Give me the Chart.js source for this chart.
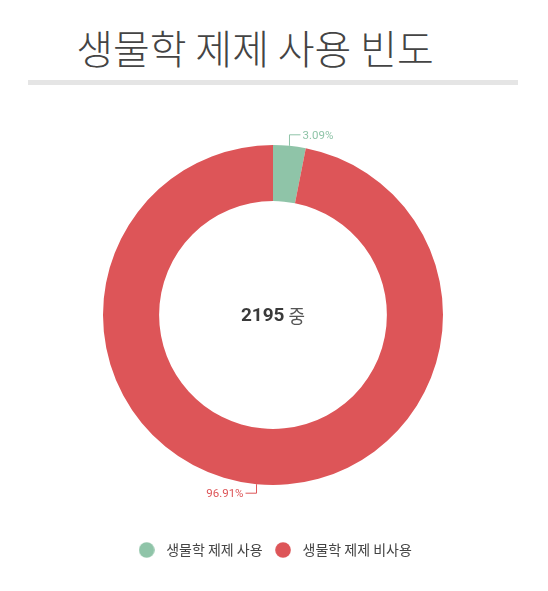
<!DOCTYPE html>
<html>
<head>
<meta charset="utf-8">
<script src="https://cdn.jsdelivr.net/npm/chart.js@4.4.0/dist/chart.umd.min.js"></script>
<style>
  body { margin: 0; background: #fff; width: 548px; height: 591px; position: relative; overflow: hidden; }
  #title {
    position: absolute; left: 0; top: 19px; width: 510px; text-align: center;
    font-family: "Noto Sans CJK KR", sans-serif; font-weight: 300; font-size: 40px;
    line-height: 56px; color: #444;
  }
  #bar { position: absolute; left: 28px; top: 80px; width: 490px; height: 5px; background: #e5e5e5; }
  #wrap { position: absolute; left: 0; top: 95px; width: 548px; height: 472px; }
</style>
</head>
<body>
<div id="title">생물학 제제 사용 빈도</div>
<div id="bar"></div>
<div id="wrap"><canvas id="pie"></canvas></div>
<script>
// ===============================
// data
// ===============================
const categories = ["생물학 제제 사용", "생물학 제제 비사용"];
const percents = [3.09, 96.91];
const colors = ["#8fc4a8", "#dd5558"];
const totalCount = 2195;
const centerSuffix = "중";

Chart.defaults.font.family = "Roboto, 'Noto Sans CJK KR', sans-serif";

// legend dots (round marker drawn on a small canvas)
function makeDot(color) {
  const c = document.createElement("canvas");
  c.width = 16; c.height = 16;
  const g = c.getContext("2d");
  g.fillStyle = color;
  g.beginPath();
  g.arc(8, 8, 7.8, 0, Math.PI * 2);
  g.fill();
  return c;
}
const dots = colors.map(makeDot);

// ===============================
// plugins
// ===============================
const centerText = {
  id: "centerText",
  afterDatasetsDraw(chart) {
    const arc = chart.getDatasetMeta(0).data[0];
    if (!arc) return;
    const { x, y } = arc.getProps(["x", "y"], true);
    const ctx = chart.ctx;
    const bold = "bold 19px Roboto, sans-serif";
    const norm = "normal 18px 'Noto Sans CJK KR', sans-serif";
    const a = String(totalCount), b = " " + centerSuffix;
    ctx.save();
    ctx.font = bold; const wa = ctx.measureText(a).width;
    ctx.font = norm; const wb = ctx.measureText(b).width;
    const left = x - (wa + wb) / 2;
    ctx.textBaseline = "middle";
    ctx.textAlign = "left";
    ctx.fillStyle = "#3a3a3a";
    ctx.font = bold; ctx.fillText(a, left, y + 1);
    ctx.fillStyle = "#555";
    ctx.font = norm; ctx.fillText(b, left + wa, y + 1);
    ctx.restore();
  }
};

const sliceLabels = {
  id: "sliceLabels",
  afterDatasetsDraw(chart) {
    const ctx = chart.ctx;
    const meta = chart.getDatasetMeta(0);
    meta.data.forEach((arc, i) => {
      const p = arc.getProps(["x", "y", "startAngle", "endAngle", "outerRadius"], true);
      const mid = (p.startAngle + p.endAngle) / 2;
      const px = p.x + Math.cos(mid) * p.outerRadius;
      const py = p.y + Math.sin(mid) * p.outerRadius;
      const dy = py < p.y ? -11 : 9;
      const dx = px >= p.x ? 1 : -1;
      ctx.save();
      ctx.strokeStyle = colors[i];
      ctx.lineWidth = 1;
      ctx.beginPath();
      ctx.moveTo(px, py);
      ctx.lineTo(px, py + dy);
      ctx.lineTo(px + dx * 11, py + dy);
      ctx.stroke();
      ctx.fillStyle = colors[i];
      ctx.font = "11.5px Roboto, sans-serif";
      ctx.textBaseline = "middle";
      ctx.textAlign = dx > 0 ? "left" : "right";
      ctx.fillText(percents[i].toFixed(2) + "%", px + dx * 13, py + dy + 1);
      ctx.restore();
    });
  }
};

// ===============================
// chart
// ===============================
new Chart(document.getElementById("pie"), {
  type: "doughnut",
  data: {
    labels: categories,
    datasets: [{
      data: percents,
      backgroundColor: colors,
      hoverBackgroundColor: colors,
      borderWidth: 0
    }]
  },
  options: {
    responsive: true,
    maintainAspectRatio: false,
    animation: false,
    cutout: "67%",
    layout: { padding: { left: 103, right: 105, top: 0, bottom: 0 } },
    plugins: {
      tooltip: { enabled: false },
      legend: {
        position: "bottom",
        labels: {
          usePointStyle: true,
          pointStyleWidth: 25,
          padding: 8,
          color: "#444",
          font: { size: 14, family: "'Noto Sans CJK KR', sans-serif" },
          generateLabels(chart) {
            const items = Chart.overrides.doughnut.plugins.legend.labels.generateLabels(chart);
            return items.map((it, i) => Object.assign(it, { pointStyle: dots[i] }));
          }
        }
      }
    }
  },
  plugins: [sliceLabels, centerText]
});
</script>
</body>
</html>
